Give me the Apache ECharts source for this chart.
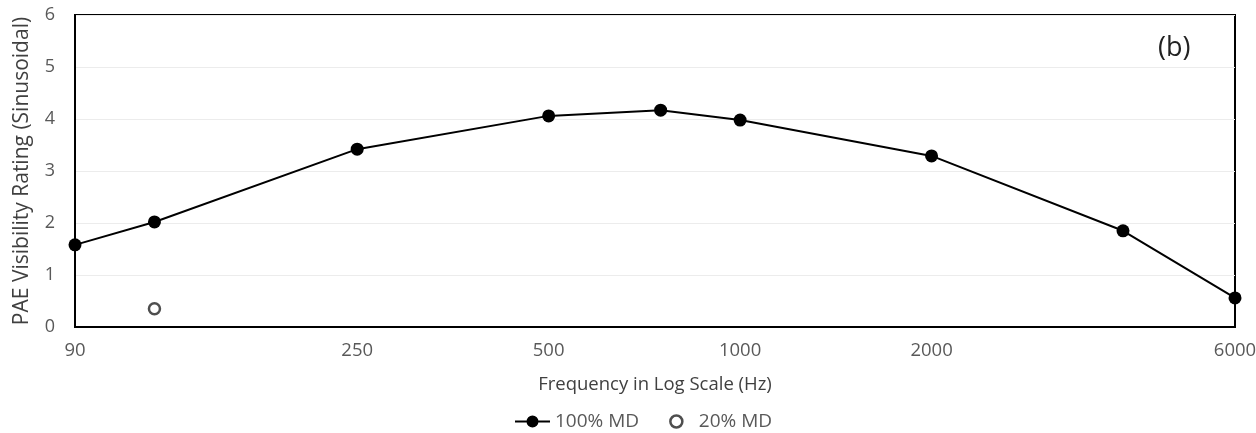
<!DOCTYPE html>
<html><head><meta charset="utf-8">
<script src="https://cdn.jsdelivr.net/npm/echarts@6/dist/echarts.min.js"></script>
<style>html,body{margin:0;padding:0;background:#fff}#c{width:1256px;height:433px}</style>
</head><body><div id="c"></div>
<script>
const freqs100 = [90, 120, 250, 500, 750, 1000, 2000, 4000, 6000];
const rating100 = [1.58, 2.02, 3.42, 4.06, 4.17, 3.98, 3.29, 1.85, 0.56];
const freqs20 = [120];
const rating20 = [0.35];
const xTicks = [90, 250, 500, 1000, 2000, 6000];

const FONT = '"Open Sans", sans-serif';
const chart = echarts.init(document.getElementById('c'));
chart.setOption({
  animation: false,
  textStyle: { fontFamily: FONT },
  grid: { left: 75, right: 21, top: 15, bottom: 106, show: true, borderColor: '#000', borderWidth: 2, containLabel: false, outerBoundsMode: 'none' },
  graphic: [{ type: 'text', x: 1158, y: 48, style: { text: '(b)', font: '27px ' + FONT, fill: '#222', textVerticalAlign: 'middle' } }],
  xAxis: {
    type: 'log', logBase: 10, min: 90, max: 6000,
    name: 'Frequency in Log Scale (Hz)', nameLocation: 'middle', nameGap: 48,
    nameTextStyle: { fontSize: 18.5, color: '#404040', fontFamily: FONT },
    axisLine: { show: true, lineStyle: { color: '#000', width: 2 } },
    axisTick: { show: false },
    splitLine: { show: false },
    minorSplitLine: { show: false },
    axisLabel: { customValues: xTicks, fontSize: 18.5, color: '#595959', margin: 14, fontFamily: FONT, formatter: v => String(Math.round(v)) }
  },
  yAxis: {
    type: 'value', min: 0, max: 6, interval: 1,
    name: 'PAE Visibility Rating (Sinusoidal)', nameLocation: 'middle', nameGap: 42,
    nameTextStyle: { fontSize: 21, color: '#404040', fontFamily: FONT },
    axisLine: { show: true, lineStyle: { color: '#000', width: 2 } },
    axisTick: { show: false },
    splitLine: { show: true, lineStyle: { color: '#ececec', width: 1 } },
    axisLabel: { fontSize: 18, color: '#595959', margin: 20, fontFamily: FONT }
  },
  legend: {
    top: 407, left: 510, itemGap: 30, itemWidth: 35, itemHeight: 12,
    textStyle: { fontSize: 19, color: '#595959', fontFamily: FONT },
    data: [
      { name: '100% MD', icon: 'path://M0,5 L35,5 L35,7 L0,7 Z M17.5,0 A6,6 0 1,1 17.49,0 Z' },
      { name: '20% MD', icon: 'circle', itemStyle: { color: '#fff', borderColor: '#222', borderWidth: 2.5 } }
    ]
  },
  series: [
    {
      name: '100% MD', type: 'line',
      data: freqs100.map((f, i) => [f, rating100[i]]),
      symbol: 'circle', symbolSize: 13,
      lineStyle: { color: '#000', width: 2 },
      itemStyle: { color: '#000' }
    },
    {
      name: '20% MD', type: 'scatter',
      data: freqs20.map((f, i) => [f, rating20[i]]),
      symbol: 'circle', symbolSize: 11,
      itemStyle: { color: '#fff', borderColor: '#222', borderWidth: 2.5 }
    }
  ]
});
</script></body></html>
